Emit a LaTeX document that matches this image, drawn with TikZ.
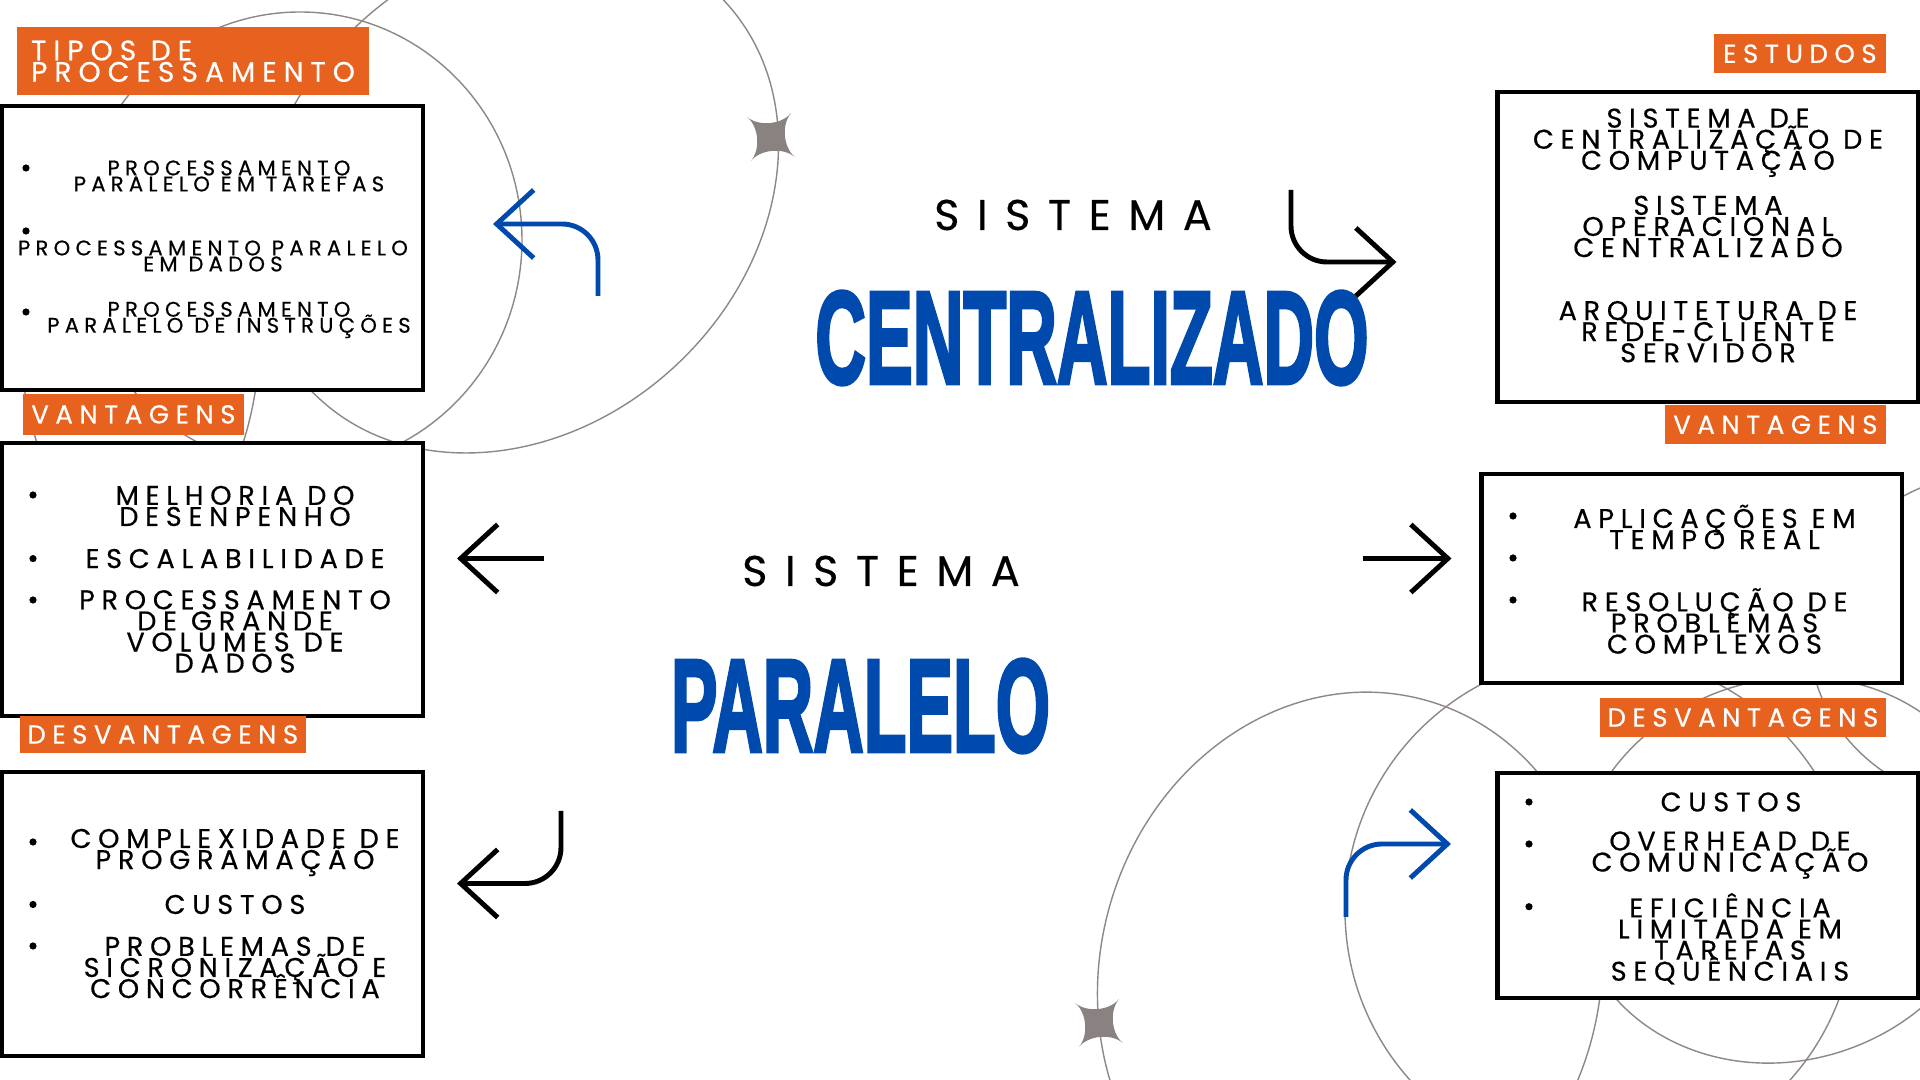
\documentclass[tikz,border=0pt]{standalone}
\usepackage{fontspec}
\setmainfont{Poppins}[LetterSpace=25, FakeBold=0.5]
\newfontfamily\wordfont{Poppins}[LetterSpace=41, FakeBold=0.4]
\newfontfamily\titlefont{Liberation Sans}[BoldFeatures={FakeBold=3}]
\usetikzlibrary{arrows.meta}
\newcommand\tightlines{\lineskiplimit=-20pt\relax}
\definecolor{tagorange}{HTML}{E8621F}
\definecolor{deepblue}{HTML}{004AAD}
\definecolor{ringgray}{HTML}{8E8785}
\definecolor{stargray}{HTML}{8A8280}
\tikzset{
  frame/.style={draw=black, line width=1.15pt, fill=white, inner sep=0pt},
  tag/.style={fill=tagorange, text=white, inner sep=0pt, align=left,
    font=\fontsize{7.4}{6.1}\selectfont\tightlines},
  item/.style={align=center, inner sep=0pt, font=\fontsize{7.7}{6}\selectfont\tightlines},
  smallitem/.style={item, font=\fontsize{6}{4.55}\selectfont\tightlines},
  ring/.style={draw=ringgray, line width=0.4pt},
  turn/.style={line width=1.4pt, rounded corners=0.36cm, line join=miter,
    -{Straight Barb[length=0.37cm, width=0.68cm]}},
}
\begin{document}
\begin{tikzpicture}[x=0.01cm, y=-0.01cm]
    \useasboundingbox (0,0) rectangle (1920,1080);
    \clip (0,0) rectangle (1920,1080);
    % rings and stars
    \draw[ring] (300,240) ellipse [x radius=222, y radius=228];
    \draw[ring, rotate around={43:(517,195)}] (517,195) ellipse [x radius=284, y radius=233];
    \draw[ring] (140,330) ellipse [x radius=120, y radius=220];
    \draw[ring, rotate around={-15:(1350,975)}] (1350,975) ellipse [x radius=250, y radius=285];
    \draw[ring] (1600,910) ellipse [x radius=255, y radius=255];
    \draw[ring, rotate around={20:(1785,870)}] (1785,870) ellipse [x radius=215, y radius=190];
    \draw[ring] (2010,640) ellipse [x radius=200, y radius=170];
    \foreach \sx/\sy in {771/137, 1099/1023} {
        \fill[stargray, shift={(\sx,\sy)}] (40:31) .. controls (40:16) and (130:16) .. (130:31)
            .. controls (130:16) and (220:16) .. (220:31) .. controls (220:16) and (310:16) .. (310:31)
            .. controls (310:16) and (40:16) .. (40:31) -- cycle;
    }
    % boxes
    \node[frame, minimum width=4.2cm, minimum height=2.83cm] (tipos) at (212.5,248) {};
    \node[frame, minimum width=4.2cm, minimum height=2.73cm] (vantpar) at (212.5,579.5) {};
    \node[frame, minimum width=4.2cm, minimum height=2.83cm] (desvpar) at (212.5,914) {};
    \node[frame, minimum width=4.2cm, minimum height=3.1cm] (estudos) at (1707.6,246.7) {};
    \node[frame, minimum width=4.2cm, minimum height=2.09cm] (vantcen) at (1691.6,578.6) {};
    \node[frame, minimum width=4.2cm, minimum height=2.25cm] (desvcen) at (1707.6,885.3) {};
    % tags
    \node[tag, font=\fontsize{8}{6.1}\selectfont\tightlines, minimum width=3.52cm,
        minimum height=0.685cm] (tagtipos) at (193,61.2) {TIPOS DE\\PROCESSAMENTO};
    \node[tag, minimum width=2.21cm, minimum height=0.41cm] (tagvp) at (133.4,414.4) {VANTAGENS};
    \node[tag, minimum width=2.86cm, minimum height=0.37cm] (tagdp) at (162.8,734.5) {DESVANTAGENS};
    \node[tag, minimum width=1.72cm, minimum height=0.395cm] (tagest) at (1799.9,53.7) {ESTUDOS};
    \node[tag, minimum width=2.21cm, minimum height=0.395cm] (tagvc) at (1775.4,424.7) {VANTAGENS};
    \node[tag, minimum width=2.86cm, minimum height=0.39cm] (tagdc) at (1742.9,717.5) {DESVANTAGENS};
    % titles
    \node[inner sep=0pt, font=\fontsize{12.2}{14}\wordfont] (sisA) at (1073,215) {SISTEMA};
    \node[inner sep=0pt, text=deepblue] (central) at (1092,338)
        {\resizebox{5.53cm}{0.92cm}{\titlefont\bfseries CENTRALIZADO}};
    \node[inner sep=0pt, font=\fontsize{12.2}{14}\wordfont] (sisB) at (881,571) {SISTEMA};
    \node[inner sep=0pt, text=deepblue] (paralelo) at (860.5,706)
        {\resizebox{3.79cm}{0.92cm}{\titlefont\bfseries PARALELO}};
    % texts
    \node[smallitem] (t11) at (229,176) {PROCESSAMENTO\\PARALELO EM TAREFAS};
    \node[smallitem] (t12) at (213,256) {PROCESSAMENTO PARALELO\\EM DADOS};
    \node[smallitem] (t13) at (229,320) {PROCESSAMENTO\\PARALELO DE INSTRUÇÕES};
    \node[item] (t21) at (235,506) {MELHORIA DO\\DESENPENHO};
    \node[item] (t22) at (235,558.6) {ESCALABILIDADE};
    \node[item] (t23) at (235,631.5) {PROCESSAMENTO\\DE GRANDE\\VOLUMES DE\\DADOS};
    \node[item] (t31) at (235,852.5) {COMPLEXIDADE DE\\PROGRAMAÇÃO};
    \node[item] (t32) at (235,904.5) {CUSTOS};
    \node[item] (t33) at (235,967.5) {PROBLEMAS DE\\SICRONIZAÇÃO E\\CONCORRÊNCIA};
    \node[item] (t41) at (1708,142.7) {SISTEMA DE\\CENTRALIZAÇÃO DE\\COMPUTAÇÃO};
    \node[item] (t42) at (1708,226.5) {SISTEMA\\OPERACIONAL\\CENTRALIZADO};
    \node[item] (t43) at (1708,331.7) {ARQUITETURA DE\\REDE-CLIENTE\\SERVIDOR};
    \node[item] (t51) at (1714.5,527) {APLICAÇÕES EM\\TEMPO REAL};
    \node[item] (t53) at (1714.5,621) {RESOLUÇÃO DE\\PROBLEMAS\\COMPLEXOS};
    \node[item] (t61) at (1731,802) {CUSTOS};
    \node[item] (t62) at (1730,855) {OVERHEAD DE\\COMUNICAÇÃO};
    \node[item] (t63) at (1730,938.7) {EFICIÊNCIA\\LIMITADA EM\\TAREFAS\\SEQUÊNCIAIS};
    \foreach \bx/\by in {26/168, 26/231, 26/312, 33/495, 33/558.6, 33/600, 33/842, 33/904.5, 33/946,
        1513/516, 1513/558, 1513/600, 1529/802, 1529/844, 1529/906.7} {
        \fill (\bx,\by) circle (3.6);
    }
    % arrows
    \coordinate (a1s) at (598,296); \coordinate (a1e) at (493,224);
    \coordinate (a2s) at (544,558.5); \coordinate (a2e) at (457,558.5);
    \coordinate (a3s) at (561,811); \coordinate (a3e) at (457,883.5);
    \coordinate (a4s) at (1291,190); \coordinate (a4e) at (1396.5,262);
    \coordinate (a5s) at (1363,558.5); \coordinate (a5e) at (1451.5,558.5);
    \coordinate (a6s) at (1346,917); \coordinate (a6e) at (1451,844);
    \draw[turn, deepblue] (a1s) |- (a1e);
    \draw[turn] (a2s) -- (a2e);
    \draw[turn] (a3s) |- (a3e);
    \draw[turn] (a4s) |- (a4e);
    \draw[turn] (a5s) -- (a5e);
    \draw[turn, deepblue] (a6s) |- (a6e);
\end{tikzpicture}
\end{document}
